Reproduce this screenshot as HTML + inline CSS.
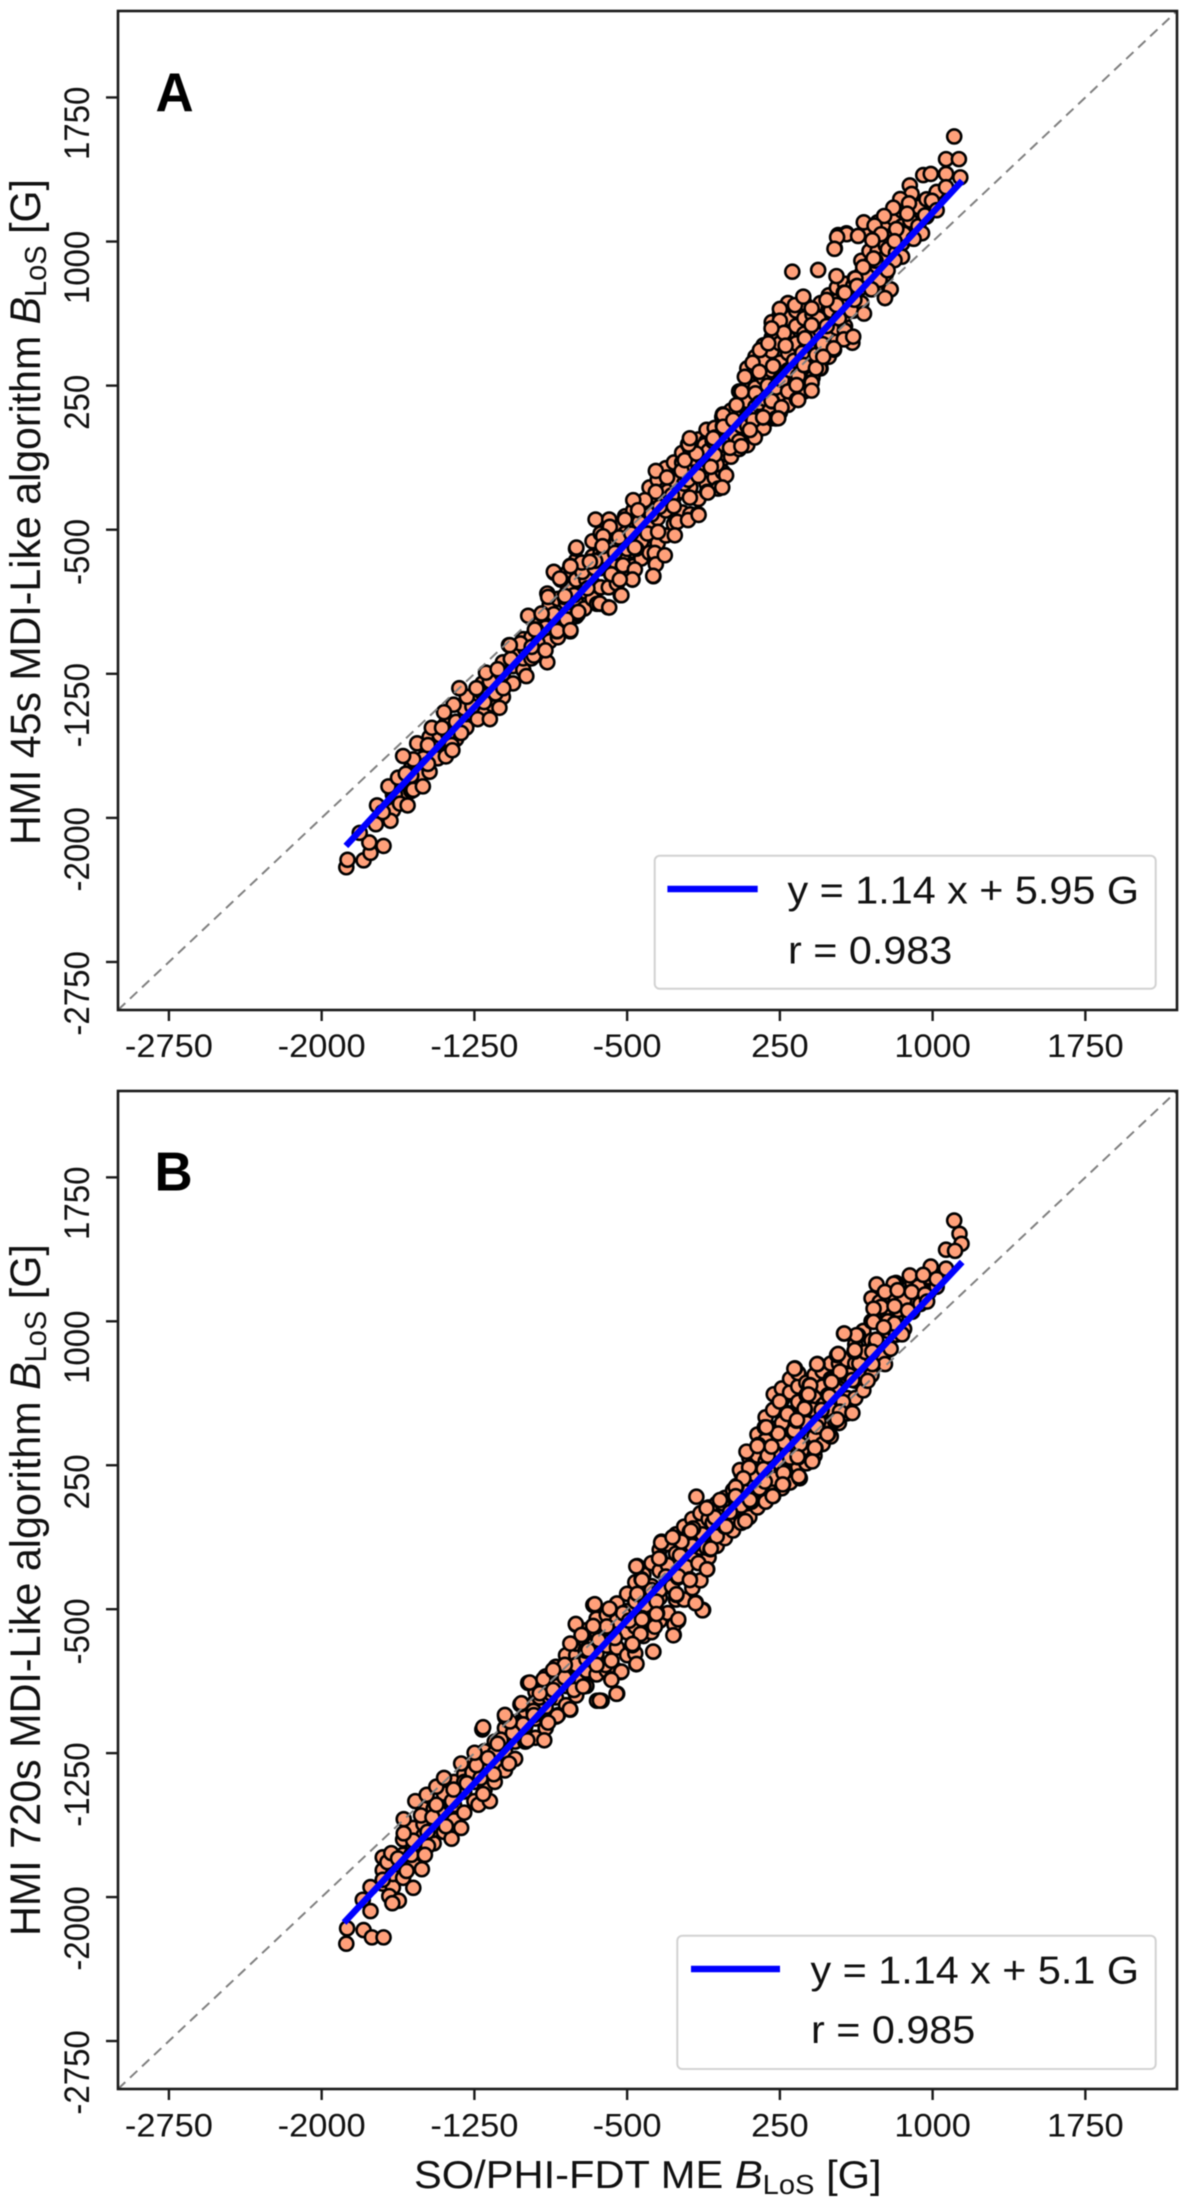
<!DOCTYPE html>
<html lang="en">
<head>
<meta charset="utf-8">
<title>HMI vs SO/PHI-FDT line-of-sight magnetic field comparison</title>
<style>
html,body{margin:0;padding:0;background:#fff;width:1200px;height:2202px;overflow:hidden}
svg{display:block;filter:blur(0.5px)}
text{font-family:"Liberation Sans",Arial,sans-serif;fill:#111}
</style>
</head>
<body>
<svg id="figure" xmlns="http://www.w3.org/2000/svg" width="1200" height="2202" viewBox="0 0 1200 2202">
  <rect x="0" y="0" width="1200" height="2202" fill="#fff"/>
  <g id="panel-a"></g>
  <g id="panel-b"></g>

  <text transform="translate(40,845) rotate(-90) scale(1,1.04)" font-size="41.1">HMI 45s MDI-Like algorithm <tspan font-style="italic">B</tspan><tspan font-size="29" dy="6">LoS</tspan><tspan dy="-6"> [G]</tspan></text>
  <text transform="translate(40,1936) rotate(-90) scale(1,1.04)" font-size="41.3">HMI 720s MDI-Like algorithm <tspan font-style="italic">B</tspan><tspan font-size="29" dy="6">LoS</tspan><tspan dy="-6"> [G]</tspan></text>
  <text transform="translate(414,2188) scale(1.06,1)" font-size="39.3">SO/PHI-FDT ME <tspan font-style="italic">B</tspan><tspan font-size="27.5" dy="6">LoS</tspan><tspan dy="-6"> [G]</tspan></text>

  <text transform="translate(155.5,111) scale(0.96,1)" font-size="55" font-weight="bold" style="fill:#000">A</text>
  <text transform="translate(154.5,1190.7) scale(0.96,1)" font-size="55" font-weight="bold" style="fill:#000">B</text>

  <g>
    <rect x="654.7" y="855.8" width="501" height="133" rx="5" ry="5" fill="#fff" stroke="#d2d2d2" stroke-width="2"/>
    <line x1="667.4" y1="889" x2="757.7" y2="889" stroke="#0000ff" stroke-width="6.5"/>
    <text transform="translate(787.5,903.3) scale(1.06,1)" font-size="39">y = 1.14 x + 5.95 G</text>
    <text transform="translate(788,963.5) scale(1.06,1)" font-size="39">r = 0.983</text>
  </g>
  <g>
    <rect x="677.3" y="1935.7" width="478.4" height="133.3" rx="5" ry="5" fill="#fff" stroke="#d2d2d2" stroke-width="2"/>
    <line x1="691" y1="1969" x2="780" y2="1969" stroke="#0000ff" stroke-width="6.5"/>
    <text transform="translate(810.5,1983.4) scale(1.06,1)" font-size="39">y = 1.14 x + 5.1 G</text>
    <text transform="translate(811,2043) scale(1.06,1)" font-size="39">r = 0.985</text>
  </g>
</svg>

<script>
/* ---------- shared axis data ---------- */
const xTickValues = [-2750, -2000, -1250, -500, 250, 1000, 1750];
const yTickValues = [-2750, -2000, -1250, -500, 250, 1000, 1750];
const tickLabels = ["-2750", "-2000", "-1250", "-500", "250", "1000", "1750"];
const axisLimits = [-3000, 2200];
const identityLine = [-3000, 2200];

/* ---------- panel A: fit line ---------- */
const fitAX = [-1881, 1145];
const fitAY = [-2146, 1316];

/* ---------- panel A: scatter (Gauss) ---------- */
const aCloudLowX = [
  -1650,-1650,
  -1600,-1600,
  -1560,-1560,
  -1520,-1520,
  -1470,-1470,-1470,
  -1430,-1430,
  -1390,-1390,-1390,
  -1340,-1340,
  -1290,-1290,
  -1250,-1250,
  -1210,-1210,-1210,
  -1160,-1160,
  -1110,-1110,-1110,
  -1060,-1060,
  -1010,-1010,-1010,
  -970,-970,
  -930,-930,-930,
  -880,-880,-880,
  -840,-840,-840,
  -790,-790,-790,-790,
  -750,-750,-750,-750,
  -710,-710,-710,
  -670,-670,-670,-670,
  -630,-630,-630,-630,
  -590,-590,-590,-590,
  -550,-550,-550,-550,
  -510,-510,-510,-510,
  -470,-470,-470,-470,
  -430,-430,-430,-430];
const aCloudLowY = [
  -1960,-1880,
  -1880,-1820,
  -1860,-1740,
  -1780,-1700,
  -1760,-1650,-1580,
  -1690,-1610,
  -1680,-1580,-1510,
  -1590,-1500,
  -1530,-1460,
  -1470,-1400,
  -1440,-1350,-1300,
  -1410,-1320,
  -1370,-1250,-1190,
  -1300,-1210,
  -1230,-1170,-1070,
  -1170,-1060,
  -1150,-1050,-970,
  -1080,-980,-890,
  -1060,-960,-860,
  -990,-900,-800,-720,
  -950,-880,-760,-660,
  -910,-820,-700,
  -860,-780,-640,-560,
  -800,-700,-620,-520,
  -800,-690,-590,-500,
  -780,-680,-560,-480,
  -720,-620,-520,-430,
  -690,-610,-480,-400,
  -650,-560,-450,-360];

const aCloudHighX = [
  -390,-390,-390,-390,
  -350,-350,-350,-350,
  -310,-310,-310,-310,
  -270,-270,-270,-270,
  -230,-230,-230,-230,
  -190,-190,-190,-190,
  -150,-150,-150,-150,
  -110,-110,-110,-110,
  -70,-70,-70,-70,
  -30,-30,-30,-30,-30,
  10,10,10,10,10,
  50,50,50,50,50,
  90,90,90,90,90,90,
  130,130,130,130,130,130,
  170,170,170,170,170,170,
  210,210,210,210,210,210,210,
  250,250,250,250,250,250,250,
  290,290,290,290,290,290,290,
  330,330,330,330,330,330,
  370,370,370,370,370,370,
  410,410,410,410,410,
  450,450,450,450,450,
  490,490,490,490,490,
  530,530,530,530,530,
  570,570,570,570,
  610,610,610,
  650,650,650,650,
  690,690,690,690,
  730,730,730,730,730,
  770,770,770,770,
  810,810,810,
  850,850,850,
  890,890,890,
  930,930,
  970,970];
const aCloudHighY = [
  -620,-480,-390,-280,
  -570,-440,-330,-240,
  -530,-400,-290,-180,
  -470,-330,-240,-150,
  -410,-300,-150,-100,
  -420,-280,-190,-80,
  -340,-190,-90,-30,
  -260,-170,-40,20,
  -230,-90,-40,30,
  -200,-130,-10,40,100,
  -120,-60,0,60,120,
  -80,-20,80,150,220,
  -60,10,90,170,280,340,
  0,70,140,240,330,400,
  30,110,200,290,380,460,
  80,150,240,330,430,500,580,
  110,180,280,370,470,560,620,
  150,240,330,420,500,600,680,
  190,290,380,470,560,640,
  220,320,430,520,600,680,
  290,380,480,560,620,
  340,430,530,610,680,
  400,500,580,650,720,
  480,550,610,690,760,
  560,620,700,780,
  640,700,770,
  680,760,830,900,
  800,880,950,1040,
  780,860,950,1050,1100,
  830,920,980,1080,
  950,1040,1120,
  990,1080,1160,
  1020,1110,1210,
  1080,1180,
  1130,1220];

const aDenseX = [-1700,-1640,-1560,-1500,-1420,-1380,-1300,-1260,-1180,-1140,
  -1040,-1000,-940,-860,-900,-800,-760,-700,-720,-660,
  -620,-560,-540,-500,-480,-440,-400,-380,-340,-300,
  -280,-260,-220,-200,-180,-150,-130,-120,-100,-70,
  -60,-40,-20,0,10,30,50,60,90,100,
  120,130,150,180,190,200,230,260,290,300,
  320,340,360,390,420,440,480,500,540,600,
  650,680,720,740,780,820,860];
const aDenseY = [-1980,-1880,-1780,-1690,-1570,-1560,-1430,-1420,-1360,-1270,
  -1140,-1120,-1090,-940,-1010,-880,-840,-760,-720,-700,
  -640,-620,-540,-600,-520,-460,-520,-420,-380,-300,
  -320,-250,-260,-240,-130,-220,-130,-60,-90,-20,
  -160,-40,-60,-30,30,-10,-40,40,40,100,
  70,210,160,180,250,120,240,280,220,330,
  380,300,420,500,440,600,560,640,600,640,
  780,820,900,800,960,940,1040];

const aLowX = [-1879,-1873,-1794,-1696,-1760,-1766,-1813,-1734,-1662,-1615,
  -1578,-1550,-1503,-1672,-1625,-1587,-1728,-1700,-1478,-1550,
  -1600,-1531,-1478,-1362,-1358,-1459,-1409,-1315,-1234,-1174,
  -1127,-1352,-1399,-1287,-1324,-1240,-1202,-1146,-1174,-1108,
  -1193,-1136,-995,-892,-1071,-1080,-1024,-958,-901,-948,
  -845,-779,-986,-920,-807,-742,-892,-807,-695,-858,
  -826,-751,-779,-723,-648,-657];
const aLowY = [-2257,-2218,-2221,-2146,-2182,-2128,-2078,-2033,-2015,-1926,
  -1935,-1854,-1836,-1836,-1791,-1770,-1935,-1970,-1719,-1696,
  -1678,-1612,-1621,-1621,-1648,-1531,-1531,-1558,-1486,-1486,
  -1427,-1411,-1450,-1370,-1325,-1325,-1397,-1352,-1289,-1325,
  -1244,-1226,-1262,-1190,-1173,-1101,-1092,-1155,-1128,-1020,
  -1029,-1029,-948,-939,-975,-939,-832,-850,-805,-724,
  -760,-599,-688,-671,-886,-662];

const aLowerEdgeX = [-371,-362,-474,-531,-593,-634,-455,-578,-521];
const aLowerEdgeY = [-742,-635,-760,-841,-904,-886,-599,-733,-688];

const aMidX = [-201,-359,-304,-233,-91,-359,-413,-470,-107,-192,
  -271,-151,-254,-348,-655,-588,-511,-585,-618,-621,
  -749,-462,-364,-683,-778,-860,-577,-520,-462,-359,
  -372,-474,-536,-806,-528,-634,-588,-920,-798,-740,
  -953,-843,-778,-1076,-969,-888,-830,-315,-266,-201,
  -446,-217,-160,-53];
const aMidY = [-55,-194,-228,-194,-164,-303,-346,-346,-303,-333,
  -378,-419,-459,-511,-447,-447,-447,-485,-534,-586,
  -593,-593,-621,-667,-690,-719,-732,-685,-707,-680,
  -740,-759,-759,-844,-841,-884,-905,-936,-967,-928,
  -1020,-1027,-1023,-1101,-1110,-850,-754,-633,-529,-450,
  -398,-138,-104,-286];

const aUpperMidX = [-14,-70,5,-33,-80,-198,-89,-33,-104,-149,
  127,61,168,230,258,212,334,405,446,371,
  428,456,516,569,606,569,663,616,629,700,
  766,794];
const aUpperMidY = [-217,-110,-74,87,-38,-56,-173,-280,-307,-423,
  -20,-65,84,79,132,168,177,267,339,356,
  410,464,437,491,473,536,625,697,769,751,
  706,751];

const aHighX = [577,536,520,311,438,528,618,564,250,324,
  365,406,528,406,250,270,209,278,373,564,
  460,515,116,217,149,368,427,332,406,209,
  258,168,62,37,-28,242,340,406,610,463,
  78,152,193,479,-28,103,-77,-192,21];
const aHighY = [1043,1034,964,843,852,820,808,734,649,669,
  713,652,670,565,588,525,548,458,496,491,
  466,444,369,352,322,357,340,253,265,171,
  137,85,218,149,97,80,175,224,505,400,
  296,435,470,696,36,19,-24,-24,71];

const aTopX = [1106,1066,1129,1066,1136,954,991,888,897,1020,
  1066,997,841,884,807,875,963,1020,762,662,
  715,822,578,531,634,747,704,813,948,907,
  518,710,850,813,659,779,621,569,794,766,
  700,629];
const aTopY = [1547,1429,1429,1352,1334,1346,1352,1292,1248,1258,
  1283,1212,1221,1199,1176,1145,1136,1163,1133,1100,
  1083,1065,1038,1023,1029,1038,1007,1002,1043,1014,
  962,912,921,903,867,850,808,733,751,706,
  751,769];

/* ---------- panel B: fit line ---------- */
const fitBX = [-1890, 1145];
const fitBY = [-2133, 1309];

/* ---------- panel B: scatter (Gauss) ---------- */
const bCloudLowX = [
  -1700,-1700,
  -1650,-1650,
  -1600,-1600,-1600,
  -1550,-1550,-1550,
  -1500,-1500,-1500,-1500,
  -1450,-1450,-1450,
  -1400,-1400,-1400,
  -1350,-1350,-1350,
  -1300,-1300,-1300,
  -1250,-1250,-1250,
  -1200,-1200,-1200,
  -1150,-1150,-1150,
  -1100,-1100,-1100,
  -1050,-1050,-1050,
  -1000,-1000,-1000,
  -950,-950,-950,-950,
  -900,-900,-900,-900,
  -850,-850,-850,-850,
  -800,-800,-800,-800,
  -750,-750,-750,-750,
  -700,-700,-700,-700,
  -650,-650,-650,-650,
  -600,-600,-600,-600,
  -550,-550,-550,-550,
  -500,-500,-500,-500,
  -460,-460,-460,-460,
  -420,-420,-420,-420];
const bCloudLowY = [
  -1930,-1860,
  -1950,-1880,
  -1900,-1780,-1700,
  -1820,-1740,-1640,
  -1780,-1680,-1620,-1540,
  -1720,-1650,-1540,
  -1660,-1560,-1460,
  -1600,-1520,-1400,
  -1560,-1450,-1360,
  -1500,-1400,-1290,
  -1440,-1340,-1240,
  -1400,-1300,-1190,
  -1340,-1240,-1120,
  -1280,-1190,-1090,
  -1190,-1110,-1030,
  -1170,-1070,-980,-930,
  -1120,-1010,-920,-850,
  -1060,-960,-880,-800,
  -1000,-900,-810,-740,
  -950,-860,-740,-680,
  -900,-820,-680,-610,
  -840,-730,-620,-550,
  -820,-690,-600,-530,
  -820,-700,-560,-470,
  -740,-620,-510,-420,
  -730,-590,-460,-360,
  -640,-520,-410,-320];

const bCloudHighX = [
  -380,-380,-380,-380,
  -340,-340,-340,-340,
  -300,-300,-300,-300,
  -260,-260,-260,-260,
  -220,-220,-220,-220,
  -180,-180,-180,-180,
  -140,-140,-140,-140,
  -100,-100,-100,-100,
  -60,-60,-60,-60,
  -20,-20,-20,-20,
  20,20,20,20,
  60,60,60,60,
  100,100,100,100,
  140,140,140,140,140,
  180,180,180,180,180,
  220,220,220,220,220,220,
  260,260,260,260,260,260,
  300,300,300,300,300,300,
  340,340,340,340,340,340,
  380,380,380,380,380,
  420,420,420,420,420,
  460,460,460,460,460,
  500,500,500,500,500,
  540,540,540,540,
  580,580,580,580,
  620,620,620,620,
  660,660,660,660,
  700,700,700,700,700,
  740,740,740,740,
  780,780,780,780,
  820,820,820,820,
  860,860,860,
  900,900,900,
  940,940,
  980,980,
  1020,1020];
const bCloudHighY = [
  -620,-470,-380,-260,
  -560,-440,-300,-190,
  -520,-380,-270,-160,
  -450,-330,-210,-110,
  -450,-280,-170,-70,
  -390,-240,-120,-30,
  -350,-180,-70,0,
  -230,-120,-30,30,
  -170,-80,0,50,
  -130,-40,30,80,
  -90,-20,60,120,
  -50,30,120,210,
  -20,80,170,290,
  30,120,240,300,410,
  60,150,270,380,500,
  110,220,320,440,540,620,
  130,230,370,470,590,650,
  160,280,400,520,630,700,
  240,350,420,580,660,730,
  260,340,460,560,680,
  300,400,500,600,720,
  360,470,560,660,740,
  400,470,600,700,780,
  470,560,650,780,
  520,600,710,800,
  600,690,780,880,
  640,720,820,950,
  720,800,900,1000,1120,
  780,870,1000,1100,
  850,950,1030,1140,
  930,1020,1120,1200,
  960,1060,1140,
  1050,1120,1200,
  1090,1180,
  1150,1230,
  1180,1250];

const bDenseX = [-1700,-1620,-1560,-1480,-1420,-1360,-1300,-1260,-1220,-1150,
  -1120,-1060,-1010,-960,-930,-880,-840,-790,-750,-700,
  -680,-640,-600,-560,-520,-490,-450,-410,-380,-340,
  -310,-280,-240,-210,-180,-150,-130,-110,-80,-60,
  -40,-20,0,20,40,60,80,110,130,150,
  170,190,220,250,270,300,320,350,380,410,
  440,470,500,530,560,590,640,670,720,750,
  780,830,860,930];
const bDenseY = [-1910,-1830,-1780,-1660,-1560,-1500,-1400,-1350,-1380,-1250,
  -1180,-1090,-1100,-1030,-960,-960,-900,-860,-790,-760,
  -680,-660,-590,-650,-520,-560,-420,-480,-400,-400,
  -330,-380,-220,-280,-170,-260,-110,-180,-50,-120,
  -10,-70,30,10,60,40,110,60,200,130,
  230,300,180,260,370,290,430,360,470,540,
  480,570,540,640,580,720,780,840,880,830,
  1000,1060,1110,1180];

const bLowX = [-1879,-1875,-1794,-1753,-1696,-1760,-1798,-1760,-1668,-1621,
  -1653,-1550,-1583,-1508,-1700,-1677,-1658,-1625,-1478,-1550,
  -1597,-1597,-1540,-1512,-1456,-1437,-1484,-1437,-1399,-1352,
  -1362,-1315,-1390,-1230,-1174,-1207,-1287,-1315,-1240,-1249,
  -1183,-1080,-1155,-1211,-1099,-1136,-990,-907,-1024,-986,
  -892,-840,-779,-911,-864,-807,-714,-761,-648,-779,
  -704,-873,-958,-1061,-1493];
const bLowY = [-2243,-2163,-2172,-2210,-2210,-1948,-2014,-2073,-1995,-2019,
  -2032,-1952,-1864,-1855,-1793,-1818,-1771,-1799,-1734,-1706,
  -1594,-1668,-1500,-1575,-1584,-1519,-1467,-1425,-1379,-1440,
  -1696,-1640,-1631,-1519,-1500,-1463,-1407,-1304,-1313,-1248,
  -1276,-1304,-1360,-1127,-1061,-1201,-1183,-1183,-996,-884,
  -1080,-1052,-1024,-865,-819,-856,-903,-921,-977,-679,
  -716,-940,-1052,-1145,-1780];

const bLowerEdgeX = [-371,-455,-549,-578,-531,-474,-625,-606,-751,-666,-714];
const bLowerEdgeY = [-722,-787,-940,-865,-828,-688,-977,-791,-581,-478,-636];

const bMidX = [-160,-192,-331,-340,-233,-91,-107,-192,-250,-451,
  -429,-258,-353,-127,-250,-271,-163,-659,-585,-425,
  -752,-667,-434,-364,-474,-372,-577,-454,-528,-577,
  -552,-634,-978,-863,-716,-781,-843,-888,-1076,-1100,
  -1207,-691,-724,-806,-863,-929,-1019,-356,-176,-650];
const bMidY = [86,-96,-148,-235,-148,-188,-292,-344,-334,-275,
  -344,-426,-521,-504,-560,-634,-466,-474,-500,-547,
  -577,-587,-629,-591,-681,-721,-768,-785,-825,-868,
  -941,-976,-882,-921,-903,-1021,-1056,-1091,-1085,-1051,
  -1115,-712,-634,-790,-816,-938,-990,-460,-79,-790];

const bUpperMidX = [80,-33,-70,-187,-89,-333,-277,-108,-343,-249,
  -192,-427,-455,-130,-164,-258,-356,-268,-249,-273,
  -427,-587,-14,5];
const bUpperMidY = [-41,52,-22,-91,-184,-153,-125,-292,-236,-329,
  -348,-348,-277,-506,-469,-422,-525,-580,-553,-636,
  -553,-497,-69,6];

const bHighX = [324,435,397,381,250,373,332,242,176,144,
  425,340,410,100,70,266,217,37,37,348,
  275,86,217,291,430,455,209,54,176,-44,
  -110,103,399,390,249,371,287,484,334,183,
  422,140,337,409,99,268,343,71,264,215,
  33,33];
const bHighY = [755,777,668,616,581,541,482,416,448,356,
  338,291,274,239,182,152,90,142,95,182,
  217,321,538,521,451,538,347,225,165,69,
  26,69,666,619,582,545,517,411,486,448,
  340,350,294,270,238,210,192,182,150,89,
  136,89];

const bTopX = [1106,1132,1142,1066,1110,991,1066,888,954,1020,
  725,809,766,828,897,963,973,747,813,879,
  710,710,813,760,850,565,634,723,794,531,
  616,704,766,704,321,433,546,681,503,606,
  626,618,536,566,545,504,487,602,520,487,
  545,493,606,531,484];
const bTopY = [1525,1456,1404,1373,1367,1285,1274,1239,1242,1220,
  1192,1196,1153,1162,1153,1140,1103,1075,1079,1056,
  1066,997,988,969,932,936,926,904,857,824,
  842,842,777,777,753,777,734,690,688,694,
  928,850,830,937,738,685,616,524,482,413,
  529,610,522,489,411];

/* ---------- axis machinery ---------- */
const SVG_NS = "http://www.w3.org/2000/svg";

function makeScale(domain, range) {
  return function (v) {
    return range[0] + (v - domain[0]) * (range[1] - range[0]) / (domain[1] - domain[0]);
  };
}

function svgEl(tag, attrs, parent) {
  const el = document.createElementNS(SVG_NS, tag);
  for (const k in attrs) el.setAttribute(k, attrs[k]);
  parent.appendChild(el);
  return el;
}

function drawPanel(group, box, xs, ys, fitX, fitY, xTickBaseline) {
  const sx = makeScale(axisLimits, [box.left, box.right]);
  const sy = makeScale(axisLimits, [box.bottom, box.top]);

  const bg = svgEl("rect", {x: box.left, y: box.top, width: box.right - box.left, height: box.bottom - box.top, fill: "#fff"}, group);
  
  

  const pts = svgEl("g", {fill: "#ffa07a", stroke: "#000", "stroke-width": 2.6}, group);
  
  
  const n = Math.min(xs.length, ys.length);
  for (let i = 0; i < n; i++) {
    const c = svgEl("circle", {cx: sx(xs[i]).toFixed(2), cy: sy(ys[i]).toFixed(2), r: 7}, pts);
    
    
  }

  const diag = svgEl("line", {
    x1: sx(identityLine[0]), y1: sy(identityLine[0]),
    x2: sx(identityLine[1]), y2: sy(identityLine[1]),
    stroke: "#808080", "stroke-width": 2, "stroke-dasharray": "10 6.5"
  }, group);
  
  

  const fit = svgEl("line", {
    x1: sx(fitX[0]), y1: sy(fitY[0]),
    x2: sx(fitX[1]), y2: sy(fitY[1]),
    stroke: "#0000ff", "stroke-width": 6.5
  }, group);
  
  

  const frame = svgEl("rect", {x: box.left, y: box.top, width: box.right - box.left, height: box.bottom - box.top, fill: "none", stroke: "#1a1a1a", "stroke-width": 2.6}, group);
  
  

  xTickValues.forEach(function (v, i) {
    const px = sx(v);
    const t = svgEl("line", {x1: px, y1: box.bottom, x2: px, y2: box.bottom + 11, stroke: "#1a1a1a", "stroke-width": 2.4}, group);
    
    
    const l = svgEl("text", {transform: "translate(" + px + "," + xTickBaseline + ") scale(1.06,1)", "font-size": 32.5, "text-anchor": "middle"}, group);
    
    
    l.textContent = tickLabels[i];
  });

  yTickValues.forEach(function (v, i) {
    const py = sy(v);
    const t = svgEl("line", {x1: box.left - 12, y1: py, x2: box.left, y2: py, stroke: "#1a1a1a", "stroke-width": 2.4}, group);
    
    
    const l = svgEl("text", {transform: "translate(88.8," + (py - 10.8) + ") rotate(-90) scale(1,1.06)", "font-size": 33, "text-anchor": "end"}, group);
    
    
    l.textContent = tickLabels[i];
  });
}

const aXs = [].concat(aCloudLowX, aCloudHighX, aDenseX, aLowX, aLowerEdgeX, aMidX, aUpperMidX, aHighX, aTopX);
const aYs = [].concat(aCloudLowY, aCloudHighY, aDenseY, aLowY, aLowerEdgeY, aMidY, aUpperMidY, aHighY, aTopY);
const bXs = [].concat(bCloudLowX, bCloudHighX, bDenseX, bLowX, bLowerEdgeX, bMidX, bUpperMidX, bHighX, bTopX);
const bYs = [].concat(bCloudLowY, bCloudHighY, bDenseY, bLowY, bLowerEdgeY, bMidY, bUpperMidY, bHighY, bTopY);

drawPanel(document.getElementById("panel-a"), {left: 118, right: 1177, top: 11, bottom: 1010}, aXs, aYs, fitAX, fitAY, 1057);
drawPanel(document.getElementById("panel-b"), {left: 118, right: 1177, top: 1091, bottom: 2089}, bXs, bYs, fitBX, fitBY, 2136.4);
</script>
</body>
</html>
